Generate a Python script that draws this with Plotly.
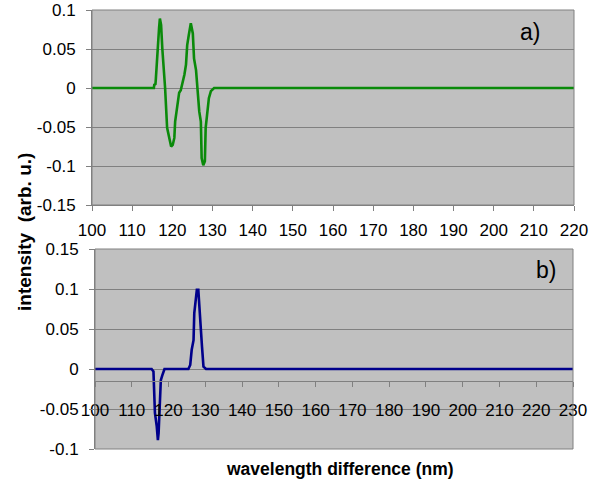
import plotly.graph_objects as go

# ---- data ----
a_x = [100, 115.4, 115.5, 115.8, 115.9, 116.1, 116.4, 116.7, 116.9, 117.2, 117.5, 118.2, 118.7,
       119.2, 119.7, 120.1, 120.5, 120.7, 121.2, 121.7, 122.1, 122.6, 123.0, 123.4, 123.7,
       124.1, 124.6, 125.1, 125.4, 125.9, 126.2, 126.7, 127.1, 127.3, 127.7, 128.1, 128.3,
       128.7, 129.1, 129.6, 130.4, 220]
a_y = [0, 0, 0.004, 0.005, 0.012, 0.03, 0.064, 0.077, 0.089, 0.081, 0.051, 0, -0.051,
       -0.062, -0.075, -0.073, -0.064, -0.043, -0.022, -0.006, -0.003, 0.008, 0.017, 0.03, 0.055,
       0.068, 0.083, 0.07, 0.038, 0.023, 0, -0.03, -0.043, -0.09, -0.099, -0.094, -0.051,
       -0.03, -0.013, -0.004, 0, 0]

b_x = [100, 115.4, 115.9, 116.1, 116.3, 116.8, 117.1, 117.3, 117.7, 117.9, 118.3, 118.9,
       125.4, 125.9, 126.3, 126.8, 127.0, 127.4, 127.7, 128.1, 128.4, 128.8, 129.1, 129.5,
       130.2, 230]
b_y = [0, 0, -0.003, -0.022, -0.055, -0.072, -0.089, -0.08, -0.047, -0.014, -0.008, 0,
       0, 0.005, 0.024, 0.036, 0.07, 0.09, 0.099, 0.099, 0.07, 0.049, 0.028, 0.003,
       0, 0]

a_xticks = list(range(100, 221, 10))
b_xticks = list(range(100, 231, 10))
a_yticks = [-0.15, -0.1, -0.05, 0, 0.05, 0.1]
a_ytext = ["-0.15", "-0.1", "-0.05", "0", "0.05", "0.1"]
b_yticks = [-0.1, -0.05, 0, 0.05, 0.1, 0.15]
b_ytext = ["-0.1", "-0.05", "0", "0.05", "0.1", "0.15"]
b_axis_cross = -0.015

y_title = "intensity  (arb. u.)"
x_title = "wavelength difference (nm)"

# ---- layout geometry ----
W, H = 603, 481
ml, mr, mt, mb = 92, 29, 10, 32
plot_h = H - mt - mb
plot_w = W - ml - mr
a_dom = [(449 - 205) / plot_h, 1.0]
b_dom = [0.0, (449 - 249) / plot_h]
b_xdom = [(95 - 92) / plot_w, (573 - 92) / plot_w]
b_range = [-0.1, 0.15]
b_pos = b_dom[0] + (b_axis_cross - b_range[0]) / (b_range[1] - b_range[0]) * (b_dom[1] - b_dom[0])

FONT = "Liberation Sans, Arial, sans-serif"
GRID = "#808080"
TICK = 17

fig = go.Figure()
fig.add_trace(go.Scatter(x=a_x, y=a_y, mode="lines", line=dict(color="#0a8a0a", width=2.6),
                         xaxis="x", yaxis="y", showlegend=False))
fig.add_trace(go.Scatter(x=b_x, y=b_y, mode="lines", line=dict(color="#00008b", width=2.6),
                         xaxis="x2", yaxis="y2", showlegend=False))

common_x = dict(showgrid=False, zeroline=False, showline=True, linecolor=GRID, linewidth=1,
                ticks="outside", ticklen=5, tickcolor=GRID, automargin=False,
                tickfont=dict(family=FONT, size=TICK, color="black"))
common_y = dict(showgrid=True, gridcolor=GRID, gridwidth=1, zeroline=False, showline=True,
                linecolor=GRID, linewidth=1, ticks="outside", ticklen=5, tickcolor=GRID,
                automargin=False, ticklabelstandoff=7,
                tickfont=dict(family=FONT, size=TICK, color="black"))

fig.update_layout(
    width=W, height=H,
    margin=dict(l=ml, r=mr, t=mt, b=mb, autoexpand=False),
    paper_bgcolor="white", plot_bgcolor="#c0c0c0",
    xaxis=dict(domain=[0, 1], range=[100, 220], anchor="y", tickvals=a_xticks,
               ticklabelstandoff=5, **common_x),
    yaxis=dict(domain=a_dom, range=[-0.15, 0.1], anchor="x", tickvals=a_yticks,
               ticktext=a_ytext, **common_y),
    xaxis2=dict(domain=b_xdom, range=[100, 230], anchor="free", position=b_pos,
                tickvals=b_xticks, ticklabelstandoff=9, **common_x),
    yaxis2=dict(domain=b_dom, range=b_range, anchor="x2", tickvals=b_yticks,
                ticktext=b_ytext, **common_y),
    shapes=[
        dict(type="rect", xref="x domain", yref="y domain", x0=0, x1=1, y0=0, y1=1,
             line=dict(color=GRID, width=1), layer="above"),
        dict(type="rect", xref="x2 domain", yref="y2 domain", x0=0, x1=1, y0=0, y1=1,
             line=dict(color=GRID, width=1), layer="above"),
    ],
    annotations=[
        dict(text="a)", xref="x domain", yref="y domain", x=0.909, y=0.887,
             xanchor="center", yanchor="middle",
             showarrow=False, font=dict(family=FONT, size=23, color="black")),
        dict(text="b)", xref="x2 domain", yref="y2 domain", x=0.944, y=0.895,
             xanchor="center", yanchor="middle",
             showarrow=False, font=dict(family=FONT, size=23, color="black")),
        dict(text="<b>" + y_title + "</b>", xref="paper", yref="paper",
             x=(25 - ml) / plot_w, y=(449 - 232) / plot_h, textangle=-90,
             xanchor="center", yanchor="middle",
             showarrow=False, font=dict(family=FONT, size=19, color="black")),
        dict(text="<b>" + x_title + "</b>", xref="paper", yref="paper",
             x=(340 - ml) / plot_w, y=(449 - 469) / plot_h,
             xanchor="center", yanchor="middle",
             showarrow=False, font=dict(family=FONT, size=17.5, color="black")),
    ],
)

fig.write_html("out.html", config={"displayModeBar": False},
               post_script="document.body.style.margin='0';")
